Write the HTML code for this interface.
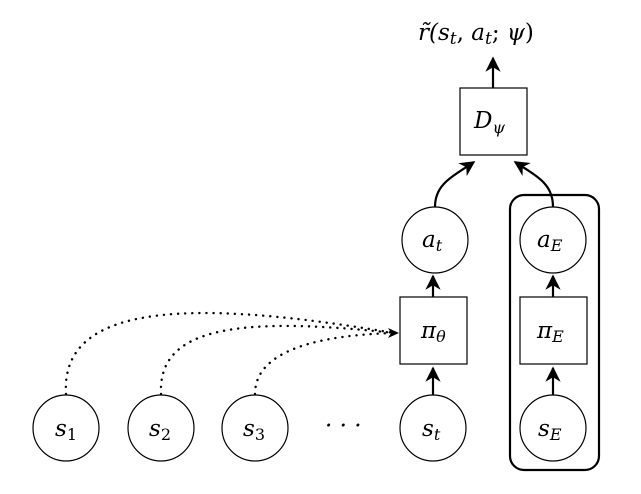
<!DOCTYPE html>
<html><head><style>body{margin:0;background:#fff}svg{display:block}text{font-family:"DejaVu Serif","Liberation Serif",serif;font-style:italic;font-size:23px}</style></head>
<body>
<svg width="641" height="494" viewBox="0 0 641 494">
<defs><marker id="a" viewBox="0 0 10 10" refX="9" refY="5" markerWidth="7" markerHeight="7" orient="auto"><path d="M0,0 L10,5 L0,10 L3,5 Z" fill="#000"/></marker></defs>
<g fill="none" stroke="#000" stroke-width="1.2">
<circle cx="66" cy="428" r="33"/>
<circle cx="161" cy="428" r="33"/>
<circle cx="255" cy="428" r="33"/>
<circle cx="433" cy="428" r="33"/>
<circle cx="553" cy="428" r="33"/>
<circle cx="435" cy="240" r="33"/>
<circle cx="553" cy="240" r="33"/>
<rect x="400" y="297" width="67" height="67"/>
<rect x="520" y="297" width="67" height="67"/>
<rect x="460" y="88" width="67" height="67"/>
<rect x="510" y="195" width="89" height="275" rx="14" stroke-width="2.2"/>
</g>
<g fill="none" stroke="#000" stroke-width="2.2" marker-end="url(#a)">
<line x1="433" y1="395" x2="433" y2="368"/>
<line x1="553" y1="395" x2="553" y2="368"/>
<line x1="433" y1="297" x2="433" y2="276"/>
<line x1="553" y1="297" x2="553" y2="276"/>
<line x1="493" y1="88" x2="493" y2="58"/>
<path d="M435,207 C435,185 450,178 474,162"/>
<path d="M553,207 C553,185 540,178 515,162"/>
</g>
<g fill="none" stroke="#000" stroke-width="2.4" stroke-dasharray="0.1 7" stroke-linecap="round">
<path d="M66,394 C60,300 200,300 394,333"/>
<path d="M161,394 C158,330 230,315 394,333"/>
<path d="M255,394 C255,350 320,335 394,333"/>
</g>
<path d="M388,328 L399,333 L388,338 L391,333 Z" fill="#000"/>
<text x="55" y="436">s<tspan font-size="16" font-style="normal" dy="4">1</tspan></text>
<text x="149" y="436">s<tspan font-size="16" font-style="normal" dy="4">2</tspan></text>
<text x="243" y="436">s<tspan font-size="16" font-style="normal" dy="4">3</tspan></text>
<text x="325" y="433" font-style="normal">· · ·</text>
<text x="422" y="436">s<tspan font-size="16" dy="4">t</tspan></text>
<text x="538" y="436">s<tspan font-size="16" dy="4">E</tspan></text>
<text x="421" y="338" font-style="normal">π<tspan font-size="16" font-style="italic" dy="4">θ</tspan></text>
<text x="537" y="338" font-style="normal">π<tspan font-size="16" font-style="italic" dy="4">E</tspan></text>
<text x="422" y="247">a<tspan font-size="16" dy="4">t</tspan></text>
<text x="537" y="247">a<tspan font-size="16" dy="4">E</tspan></text>
<text x="474" y="128">D<tspan font-size="16" dy="5">ψ</tspan></text>
<text x="418" y="40" font-size="25">r̃(s<tspan font-size="17" dy="4">t</tspan><tspan dy="-4" font-style="normal">, </tspan>a<tspan font-size="17" dy="4">t</tspan><tspan dy="-4" font-style="normal">; </tspan>ψ<tspan font-style="normal">)</tspan></text>
</svg>
</body></html>
